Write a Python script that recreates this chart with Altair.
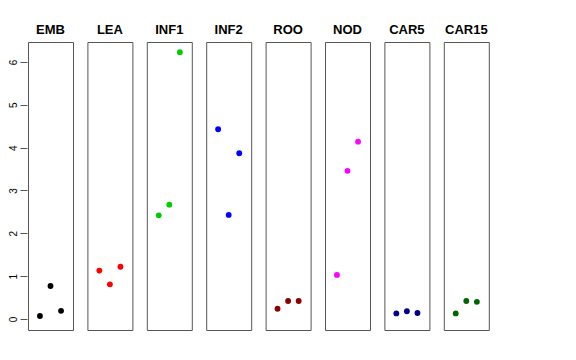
import altair as alt
import pandas as pd

tissues = ["EMB", "LEA", "INF1", "INF2", "ROO", "NOD", "CAR5", "CAR15"]
colors = ["#000000", "#FF0000", "#00CD00", "#0000FF", "#8B0000", "#FF00FF", "#00008B", "#006400"]
replicate = [1, 2, 3]
emb = [0.07, 0.77, 0.19]
lea = [1.13, 0.81, 1.22]
inf1 = [2.42, 2.67, 6.23]
inf2 = [4.43, 2.43, 3.87]
roo = [0.24, 0.42, 0.42]
nod = [1.03, 3.46, 4.14]
car5 = [0.13, 0.18, 0.14]
car15 = [0.13, 0.42, 0.40]

series = [emb, lea, inf1, inf2, roo, nod, car5, car15]
rows = []
for t, vals in zip(tissues, series):
    for r, v in zip(replicate, vals):
        rows.append({"tissue": t, "rep": r, "value": v})
df = pd.DataFrame(rows)

base = alt.Chart(df).mark_circle(size=34, opacity=1).encode(
    x=alt.X("rep:Q", scale=alt.Scale(domain=[-0.13, 4.13], nice=False, zero=False), axis=None),
    y=alt.Y("value:Q",
            scale=alt.Scale(domain=[-0.257, 6.467], nice=False, zero=False),
            axis=alt.Axis(values=[0, 1, 2, 3, 4, 5, 6], title=None, grid=False, domain=False,
                          tickSize=7, tickColor="#555555", tickWidth=1,
                          labelAngle=270, labelAlign="center", labelBaseline="bottom",
                          labelPadding=2, labelFont="Liberation Sans", labelFontSize=10,
                          labelColor="#000000")),
    color=alt.Color("tissue:N", scale=alt.Scale(domain=tissues, range=colors), legend=None),
).properties(width=45, height=288)

chart = base.facet(
    column=alt.Column("tissue:N", sort=tissues,
                      header=alt.Header(title=None, labelFont="Liberation Sans", labelFontSize=13,
                                        labelFontWeight="bold", labelColor="#000000",
                                        labelPadding=4)),
    spacing=12.4,
).configure_view(stroke="#555555", strokeWidth=1).properties(
    padding={"left": 0, "top": 16, "right": 5, "bottom": 5}
)

chart.save("out.html", embed_options={"renderer": "svg", "actions": False})
